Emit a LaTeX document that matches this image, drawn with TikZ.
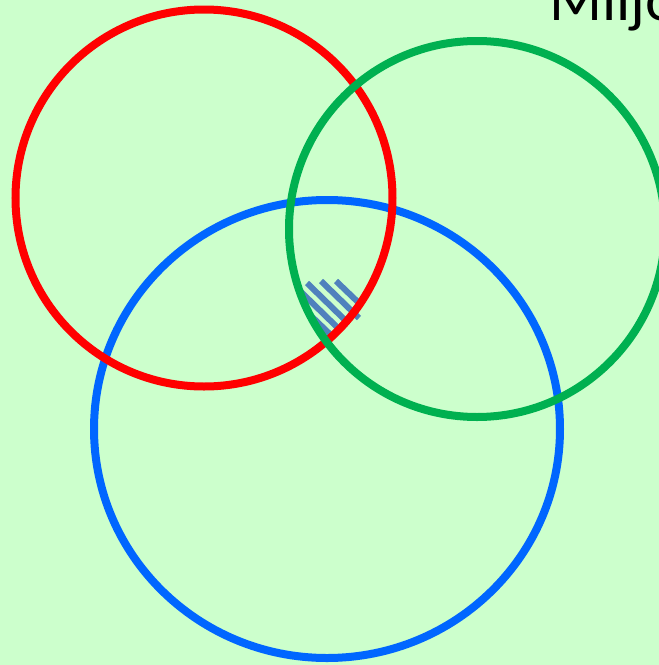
\documentclass[tikz,border=0pt]{standalone}
\usepackage{fontspec}
\newfontfamily\labelfont{Carlito}
\definecolor{bg}{RGB}{204,255,204}
\definecolor{cred}{RGB}{255,0,0}
\definecolor{cgreen}{RGB}{0,176,80}
\definecolor{cblue}{RGB}{0,102,255}
\definecolor{hatch}{RGB}{79,129,189}
\tikzset{
  ring/.style={line width=8pt},
  hatchline/.style={hatch, line width=6pt, line cap=butt},
}
\begin{document}
\begin{tikzpicture}[x=1pt,y=-1pt]
\useasboundingbox (0,0) rectangle (659,665);
\clip (0,0) rectangle (659,665);
\fill[bg] (0,0) rectangle (659,665);
% hatch stripes
\draw[hatchline] (336,281) -- (361,305);
\draw[hatchline] (321,281) -- (359,318);
\draw[hatchline] (307,283) -- (347,322);
\draw[hatchline] (298,289) -- (340,330);
\draw[hatchline] (308,313) -- (334,338);
% circles
\draw[ring, cblue] (327,429) ellipse [x radius=233, y radius=229];
\draw[ring, cred] (204,198) circle [radius=188.5];
\draw[ring, cgreen] (477,229) circle [radius=188];
% label
\node[anchor=base west, inner sep=0pt, font=\labelfont\fontsize{62}{70}\selectfont] (lbl) at (549,20) {Miljö};
\end{tikzpicture}
\end{document}
